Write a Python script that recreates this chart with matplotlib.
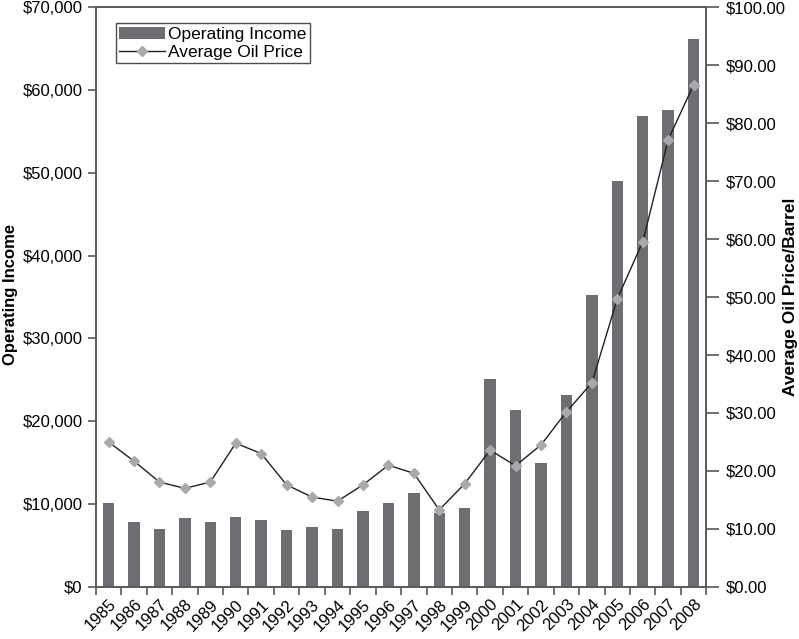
import matplotlib.pyplot as plt
from matplotlib.ticker import FuncFormatter, FixedLocator

plt.rcParams['font.family'] = ['Liberation Sans', 'DejaVu Sans']

# Data
years = [str(y) for y in range(1985, 2009)]
operating_income = [10100, 7800, 7000, 8300, 7900, 8500, 8050, 6850, 7300, 6950,
                    9150, 10100, 11400, 8900, 9550, 25100, 21400, 14950, 23150,
                    35200, 49000, 56800, 57550, 66150]
oil_price = [25.0, 21.7, 18.1, 17.0, 18.1, 24.8, 23.0, 17.6, 15.5, 14.8,
             17.6, 21.0, 19.6, 13.3, 17.8, 23.6, 20.9, 24.5, 30.2, 35.2,
             49.7, 59.5, 77.1, 86.6]

bar_color = '#6d6e71'
marker_color = '#a7a9ac'
spine_color = '#58595b'

fig = plt.figure(figsize=(7.99, 6.39), dpi=100)
ax = fig.add_axes([0.120, 0.0814, 0.764, 0.9076])
ax2 = ax.twinx()

x = list(range(len(years)))
bars = ax.bar(x, operating_income, width=0.45, color=bar_color, label='Operating Income', zorder=2)
line, = ax2.plot(x, oil_price, color='#231f20', linewidth=1.0, marker='D', markersize=5,
                 markerfacecolor=marker_color, markeredgecolor=marker_color,
                 label='Average Oil Price', zorder=3)

ax.set_xlim(-0.5, len(years) - 0.5)
ax.set_ylim(0, 70000)
ax2.set_ylim(0, 100)
ax.set_yticks(range(0, 70001, 10000))
ax2.set_yticks(range(0, 101, 10))
ax.yaxis.set_major_formatter(FuncFormatter(lambda v, p: '${:,.0f}'.format(v)))
ax2.yaxis.set_major_formatter(FuncFormatter(lambda v, p: '${:.2f}'.format(v)))

# tick marks at category boundaries, labels under bars
ax.set_xticks(x)
ax.set_xticklabels(years, rotation=45, ha='right', rotation_mode='anchor')
ax.xaxis.set_minor_locator(FixedLocator([i - 0.5 for i in range(len(years) + 1)]))
ax.tick_params(axis='x', which='major', length=0, pad=7, labelsize=12)
ax.tick_params(axis='x', which='minor', length=6, width=1.2, color=spine_color)
ax.tick_params(axis='y', length=6, width=1.2, color=spine_color, labelsize=12)
ax2.tick_params(axis='y', length=9, width=1.2, color=spine_color, labelsize=12, pad=5)

for a in (ax, ax2):
    for s in a.spines.values():
        s.set_color(spine_color)
        s.set_linewidth(1.2)

ax.set_ylabel('Operating Income', fontsize=12, fontweight='bold')
ax.yaxis.set_label_coords(-0.128, 0.505)
ax2.set_ylabel('Average Oil Price/Barrel', fontsize=12.5, fontweight='bold', rotation=90)
ax2.yaxis.set_label_coords(1.126, 0.5)

leg = ax.legend([bars, line], ['Operating Income', 'Average Oil Price'],
                loc='upper left', bbox_to_anchor=(0.033, 0.972), fontsize=12.5,
                frameon=True, fancybox=False, edgecolor='#231f20', borderpad=0.2,
                handlelength=2.6, handletextpad=0.2, labelspacing=0.15,
                borderaxespad=0)
leg.get_frame().set_linewidth(1.0)

fig.savefig('out.png', dpi=100)
